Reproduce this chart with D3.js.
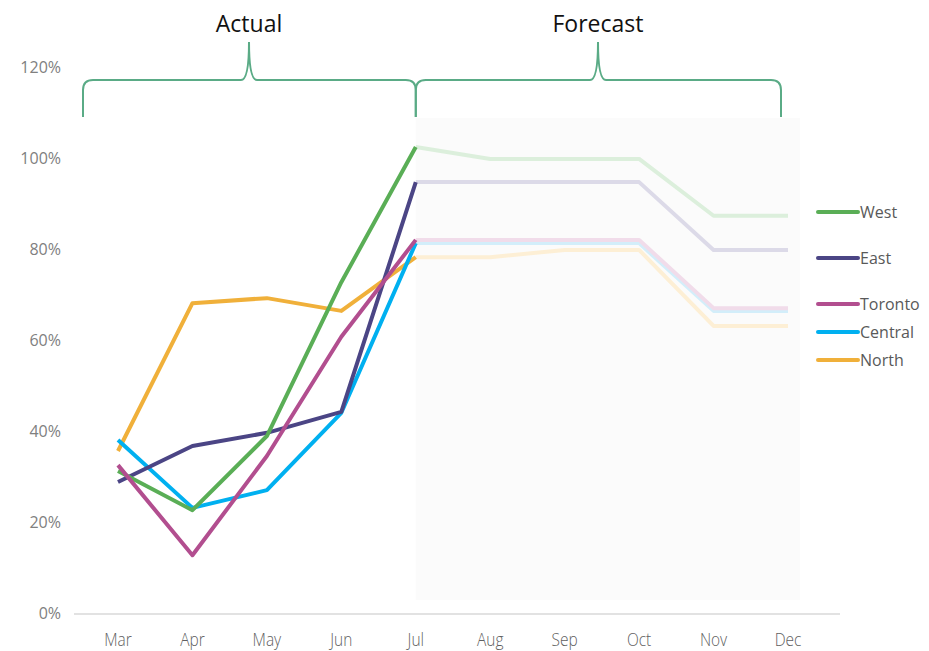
<!DOCTYPE html>
<html>
<head>
<meta charset="utf-8">
<script src="https://cdn.jsdelivr.net/npm/d3@7"></script>
<style>
  body { margin: 0; background: #fff; }
  svg { display: block; font-family: 'Open Sans', sans-serif; }
</style>
</head>
<body>
<div id="chart"></div>
<script>
const months = ['Mar', 'Apr', 'May', 'Jun', 'Jul', 'Aug', 'Sep', 'Oct', 'Nov', 'Dec'];
const actualMonths = ['Mar', 'Apr', 'May', 'Jun', 'Jul'];
const forecastMonths = ['Jul', 'Aug', 'Sep', 'Oct', 'Nov', 'Dec'];
const regions = ['West', 'East', 'Toronto', 'Central', 'North'];
const yTicks = [0, 0.2, 0.4, 0.6, 0.8, 1.0, 1.2];

// actual Mar..Jul
const westActual = [0.312, 0.226, 0.389, 0.727, 1.024];
const eastActual = [0.288, 0.367, 0.396, 0.442, 0.947];
const torontoActual = [0.325, 0.127, 0.345, 0.607, 0.820];
const centralActual = [0.380, 0.231, 0.270, 0.440, 0.813];
const northActual = [0.356, 0.681, 0.692, 0.664, 0.782];

// forecast Jul..Dec
const westForecast = [1.024, 0.998, 0.998, 0.998, 0.873, 0.873];
const eastForecast = [0.947, 0.947, 0.947, 0.947, 0.798, 0.798];
const torontoForecast = [0.820, 0.820, 0.820, 0.820, 0.670, 0.670];
const centralForecast = [0.813, 0.813, 0.813, 0.813, 0.664, 0.664];
const northForecast = [0.782, 0.782, 0.798, 0.798, 0.631, 0.631];

const colors = ['#5aae56', '#4b4585', '#b24e8f', '#00b0f0', '#f0b03a'];
const fadedColors = ['#dcefdc', '#dcdae8', '#f1dcea', '#d3eefa', '#fdefd5'];

const W = 929, H = 651;

const x = d3.scalePoint().domain(months).range([118, 788]);
const y = d3.scaleLinear().domain([0, 1.2]).range([613, 67]);

const svg = d3.select('#chart').append('svg')
  .attr('width', W)
  .attr('height', H);

// forecast shaded area
svg.append('rect')
  .attr('x', x('Jul'))
  .attr('y', 118)
  .attr('width', x('Dec') + 12 - x('Jul'))
  .attr('height', 600 - 118)
  .attr('fill', '#fbfbfb');

// y axis labels
svg.append('g')
  .selectAll('text')
  .data(yTicks)
  .join('text')
  .attr('x', 61)
  .attr('y', d => y(d))
  .attr('dy', '0.35em')
  .attr('text-anchor', 'end')
  .attr('fill', '#808080')
  .style('font-size', '16px')
  .text(d => d3.format('.0%')(d));

// x axis
svg.append('line')
  .attr('x1', 74).attr('x2', 840)
  .attr('y1', 614).attr('y2', 614)
  .attr('stroke', '#d9d9d9')
  .attr('stroke-width', 1.5);

svg.append('g')
  .selectAll('text')
  .data(months)
  .join('text')
  .attr('transform', d => `translate(${x(d)},646) scale(0.86,1)`)
  .attr('text-anchor', 'middle')
  .attr('fill', '#5f5f5f')
  .style('font-size', '18px')
  .style('font-weight', 300)
  .text(d => d);

const line = d3.line()
  .x(d => x(d[0]))
  .y(d => y(d[1]));

const actualSeries = [westActual, eastActual, torontoActual, centralActual, northActual];
const forecastSeries = [westForecast, eastForecast, torontoForecast, centralForecast, northForecast];

// faded forecast lines (drawn bottom-up so upper ones overlay)
const fg = svg.append('g').attr('fill', 'none').attr('stroke-width', 4).attr('stroke-linejoin', 'round');
[4, 3, 2, 1, 0].forEach(i => {
  fg.append('path')
    .attr('d', line(d3.zip(forecastMonths, forecastSeries[i])))
    .attr('stroke', fadedColors[i]);
});

// solid actual lines
const ag = svg.append('g').attr('fill', 'none').attr('stroke-width', 4).attr('stroke-linejoin', 'round');
[4, 3, 1, 0, 2].forEach(i => {
  ag.append('path')
    .attr('d', line(d3.zip(actualMonths, actualSeries[i])))
    .attr('stroke', colors[i]);
});

// legend
const legendY = [212, 258, 304, 332, 360];
const lg = svg.append('g');
regions.forEach((r, i) => {
  lg.append('line')
    .attr('x1', 818).attr('x2', 858)
    .attr('y1', legendY[i]).attr('y2', legendY[i])
    .attr('stroke', colors[i])
    .attr('stroke-width', 4)
    .attr('stroke-linecap', 'round');
  lg.append('text')
    .attr('x', 860)
    .attr('y', legendY[i])
    .attr('dy', '0.35em')
    .attr('fill', '#595959')
    .style('font-size', '16px')
    .text(r);
});

// braces
function brace(x0, x1, tip) {
  const top = 42, mid = 80, bot = 117, r = 10, t = 8;
  return `M${x0},${bot} L${x0},${mid + r} Q${x0},${mid} ${x0 + r},${mid}`
    + ` L${tip - t},${mid} Q${tip},${mid} ${tip},${top} Q${tip},${mid} ${tip + t},${mid}`
    + ` L${x1 - r},${mid} Q${x1},${mid} ${x1},${mid + r} L${x1},${bot}`;
}

const braces = [
  { label: 'Actual', x0: 83, x1: x('Jul'), tip: 249 },
  { label: 'Forecast', x0: x('Jul'), x1: 781, tip: 598 }
];

braces.forEach(b => {
  svg.append('path')
    .attr('d', brace(b.x0, b.x1, b.tip))
    .attr('fill', 'none')
    .attr('stroke', '#5aab86')
    .attr('stroke-width', 2);
  svg.append('text')
    .attr('x', b.tip)
    .attr('y', 32)
    .attr('text-anchor', 'middle')
    .attr('fill', '#111')
    .style('font-size', '23px')
    .text(b.label);
});
</script>
</body>
</html>
